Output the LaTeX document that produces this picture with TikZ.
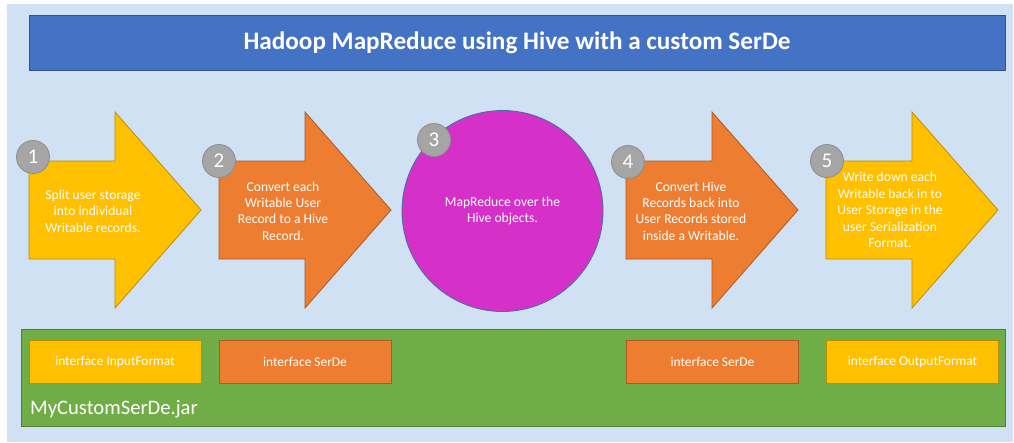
\documentclass[tikz,border=0pt]{standalone}
\usepackage{fontspec}
\setmainfont{Carlito}

\definecolor{bgblue}{RGB}{207,225,242}
\definecolor{titleblue}{RGB}{68,114,196}
\definecolor{titleedge}{RGB}{47,82,143}
\definecolor{hiveyellow}{RGB}{255,192,0}
\definecolor{yellowedge}{RGB}{188,140,0}
\definecolor{hiveorange}{RGB}{237,125,49}
\definecolor{orangeedge}{RGB}{174,90,33}
\definecolor{mrmagenta}{RGB}{213,49,201}
\definecolor{mredge}{RGB}{65,113,156}
\definecolor{numgray}{RGB}{165,165,165}
\definecolor{numedge}{RGB}{140,140,140}
\definecolor{jargreen}{RGB}{112,173,71}
\definecolor{jaredge}{RGB}{80,126,50}

\tikzset{
  numdot/.style={circle, fill=numgray, draw=numedge, line width=0.8pt, minimum size=33pt, inner sep=0pt, text=white, font=\fontsize{21}{21}\selectfont},
  steptext/.style={align=center, text=white, font=\fontsize{13.6}{16.4}\selectfont},
  ifacebox/.style={draw, line width=0.8pt, minimum width=172pt, minimum height=43pt, inner sep=0pt, text=white, font=\fontsize{13.4}{15}\selectfont},
}

% arrow with left edge at x=#1
\newcommand\flowarrow[3]{%
  \filldraw[fill=#2, draw=#3, line width=0.8pt] (#1,161) -- ++(86,0) -- ++(0,-49) -- ++(86,98) -- ++(-86,98) -- ++(0,-49) -- ++(-86,0) -- cycle;}

\begin{document}
\begin{tikzpicture}[x=1pt, y=-1pt]
    \useasboundingbox (0,0) rectangle (1014,442);
    \fill[bgblue] (7,4) rectangle (1013,442);

    \node[fill=titleblue, draw=titleedge, line width=0.8pt, minimum width=976pt, minimum height=55pt, text=white, font=\bfseries\fontsize{25.2}{28}\selectfont] (title) at (517,42.5) {Hadoop MapReduce using Hive with a custom SerDe};

    \flowarrow{29}{hiveyellow}{yellowedge}
    \flowarrow{219}{hiveorange}{orangeedge}
    \flowarrow{626}{hiveorange}{orangeedge}
    \flowarrow{826}{hiveyellow}{yellowedge}
    \node[circle, fill=mrmagenta, draw=mredge, line width=0.8pt, minimum size=201pt, align=center, text=white, font=\fontsize{13.6}{16.4}\selectfont] (mr) at (502.5,211) {MapReduce over the\\Hive objects.};

    \node[steptext] (s1) at (93,211) {Split user storage\\into individual\\Writable records.};
    \node[steptext] (s2) at (283,211) {Convert each\\Writable User\\Record to a Hive\\Record.};
    \node[steptext] (s4) at (691,211) {Convert Hive\\Records back into\\User Records stored\\inside a Writable.};
    \node[steptext] (s5) at (890,210) {Write down each\\Writable back in to\\User Storage in the\\user Serialization\\Format.};

    \node[numdot] (n1) at (33,157) {1};
    \node[numdot] (n2) at (219,161) {2};
    \node[numdot] (n3) at (434,140) {3};
    \node[numdot] (n4) at (628,162) {4};
    \node[numdot] (n5) at (827,161) {5};

    \node[fill=jargreen, draw=jaredge, line width=0.8pt, minimum width=984pt, minimum height=97pt, anchor=north west] (jar) at (21,329) {};
    \node[ifacebox, fill=hiveyellow, draw=yellowedge] (inputfmt) at (115,361.5) {interface InputFormat};
    \node[ifacebox, fill=hiveorange, draw=orangeedge] (serde1) at (305,361.5) {interface SerDe};
    \node[ifacebox, fill=hiveorange, draw=orangeedge] (serde2) at (712.5,361.5) {interface SerDe};
    \node[ifacebox, fill=hiveyellow, draw=yellowedge] (outputfmt) at (912.5,361.5) {interface OutputFormat};
    \node[anchor=west, text=white, inner sep=0pt, font=\fontsize{20.6}{22}\selectfont] (jarname) at (30,409) {MyCustomSerDe.jar};
  \end{tikzpicture}
\end{document}
